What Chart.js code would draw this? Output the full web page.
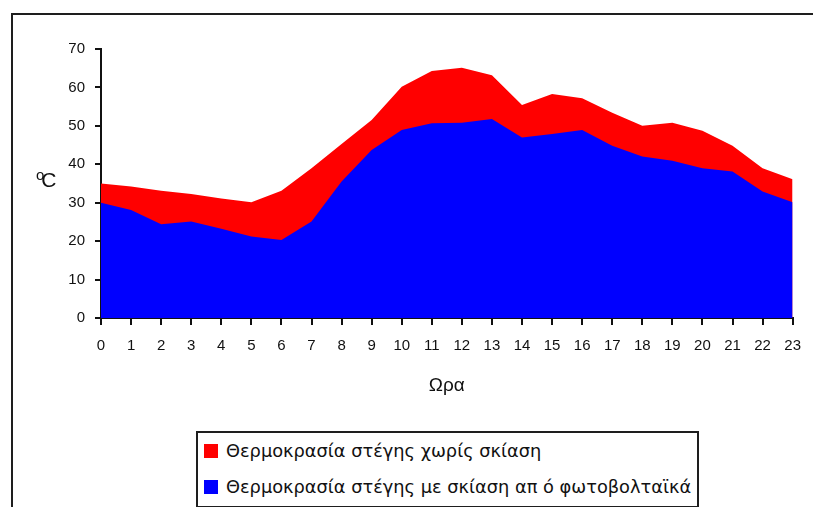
<!DOCTYPE html>
<html>
<head>
<meta charset="utf-8">
<script src="https://cdn.jsdelivr.net/npm/chart.js@4.4.1/dist/chart.umd.min.js"></script>
<style>
  html, body { margin: 0; padding: 0; background: #fff; }
  #wrap { position: relative; width: 813px; height: 507px; overflow: hidden; font-family: "Liberation Sans", Arial, sans-serif; color: #111; }
  #frame { position: absolute; left: 11px; top: 13px; width: 900px; height: 600px; border-left: 2px solid #1e1e1e; border-top: 2px solid #1e1e1e; }
  #chart { position: absolute; left: 0; top: 0; }
  #unit { position: absolute; left: 36px; top: 166px; font-size: 21px; }
  #unit sup { font-size: 15px; margin-right: -3px; vertical-align: 7px; }
  #legend { position: absolute; left: 196px; top: 431px; width: 499px; height: 73px; border: 2px solid #1e1e1e; background: #fff; }
  .item { position: absolute; left: 6px; font-family: "DejaVu Sans", sans-serif; font-size: 17.8px; white-space: nowrap; }
  .item span.box { display: inline-block; width: 14px; height: 14px; margin-right: 8px; vertical-align: -1px; }
</style>
</head>
<body>
<div id="wrap">
  <div id="frame"></div>
  <canvas id="chart" width="813" height="507"></canvas>
  <div id="unit"><sup>o</sup>C</div>
  <div id="legend"></div>
</div>
<script>
// Ώρες της ημέρας
const hours = ['0','1','2','3','4','5','6','7','8','9','10','11','12','13','14','15','16','17','18','19','20','21','22','23'];

// Θερμοκρασία στέγης χωρίς σκίαση (°C)
const tempNoShade = [35.0, 34.2, 33.1, 32.3, 31.1, 30.1, 33.1, 39.0, 45.3, 51.5, 60.2, 64.3, 65.1, 63.2, 55.4, 58.3, 57.2, 53.4, 50.0, 50.8, 48.7, 44.8, 39.0, 36.1];

// Θερμοκρασία στέγης με σκίαση από φωτοβολταϊκά (°C)
const tempShade = [30.0, 28.1, 24.4, 25.1, 23.2, 21.2, 20.3, 25.1, 35.5, 43.7, 48.9, 50.7, 50.8, 51.8, 47.0, 47.9, 48.9, 44.8, 42.0, 40.9, 39.0, 38.1, 32.9, 30.1];

const labelNoShade = 'Θερμοκρασία στέγης χωρίς σκίαση';
const labelShade = 'Θερμοκρασία στέγης με σκίαση απ ό φωτοβολταϊκά';

const fontFamily = '"Liberation Sans", Arial, sans-serif';

const ctx = document.getElementById('chart').getContext('2d');

const chart = new Chart(ctx, {
    type: 'line',
    data: {
        labels: hours,
        datasets: [{
            label: labelNoShade,
            data: tempNoShade,
            backgroundColor: '#ff0000',
            borderWidth: 0,
            pointRadius: 0,
            fill: 'origin',
            order: 2
        }, {
            label: labelShade,
            data: tempShade,
            backgroundColor: '#0000ff',
            borderWidth: 0,
            pointRadius: 0,
            fill: 'origin',
            order: 1
        }]
    },
    options: {
        responsive: false,
        animation: false,
        layout: {
            padding: { left: 0, top: 49, right: 17, bottom: 0 }
        },
        plugins: {
            legend: { display: false },
            tooltip: { enabled: false }
        },
        scales: {
            x: {
                offset: false,
                grid: { drawOnChartArea: false, tickLength: 7, color: '#111', lineWidth: 2 },
                border: { color: '#111', width: 2 },
                ticks: { color: '#111', padding: 12, maxRotation: 0, autoSkip: false, font: { family: fontFamily, size: 15 } },
                title: { display: true, text: 'Ωρα', color: '#111', font: { family: fontFamily, size: 19 }, padding: { top: 0, bottom: 110 } },
                afterFit: (scale) => { scale.height = 189; }
            },
            y: {
                min: 0,
                max: 70,
                grid: { drawOnChartArea: false, tickLength: 6, color: '#111', lineWidth: 2 },
                border: { color: '#111', width: 2 },
                ticks: { stepSize: 10, color: '#111', padding: 10, font: { family: fontFamily, size: 15 } },
                afterFit: (scale) => { scale.width = 101; }
            }
        }
    }
});

// Υπόμνημα
const legend = document.getElementById('legend');
chart.data.datasets.forEach((ds, i) => {
    const item = document.createElement('div');
    item.className = 'item';
    item.style.top = (i === 0 ? 7 : 43) + 'px';
    item.innerHTML = '<span class="box" style="background:' + ds.backgroundColor + '"></span>' + ds.label;
    legend.appendChild(item);
});
</script>
</body>
</html>
